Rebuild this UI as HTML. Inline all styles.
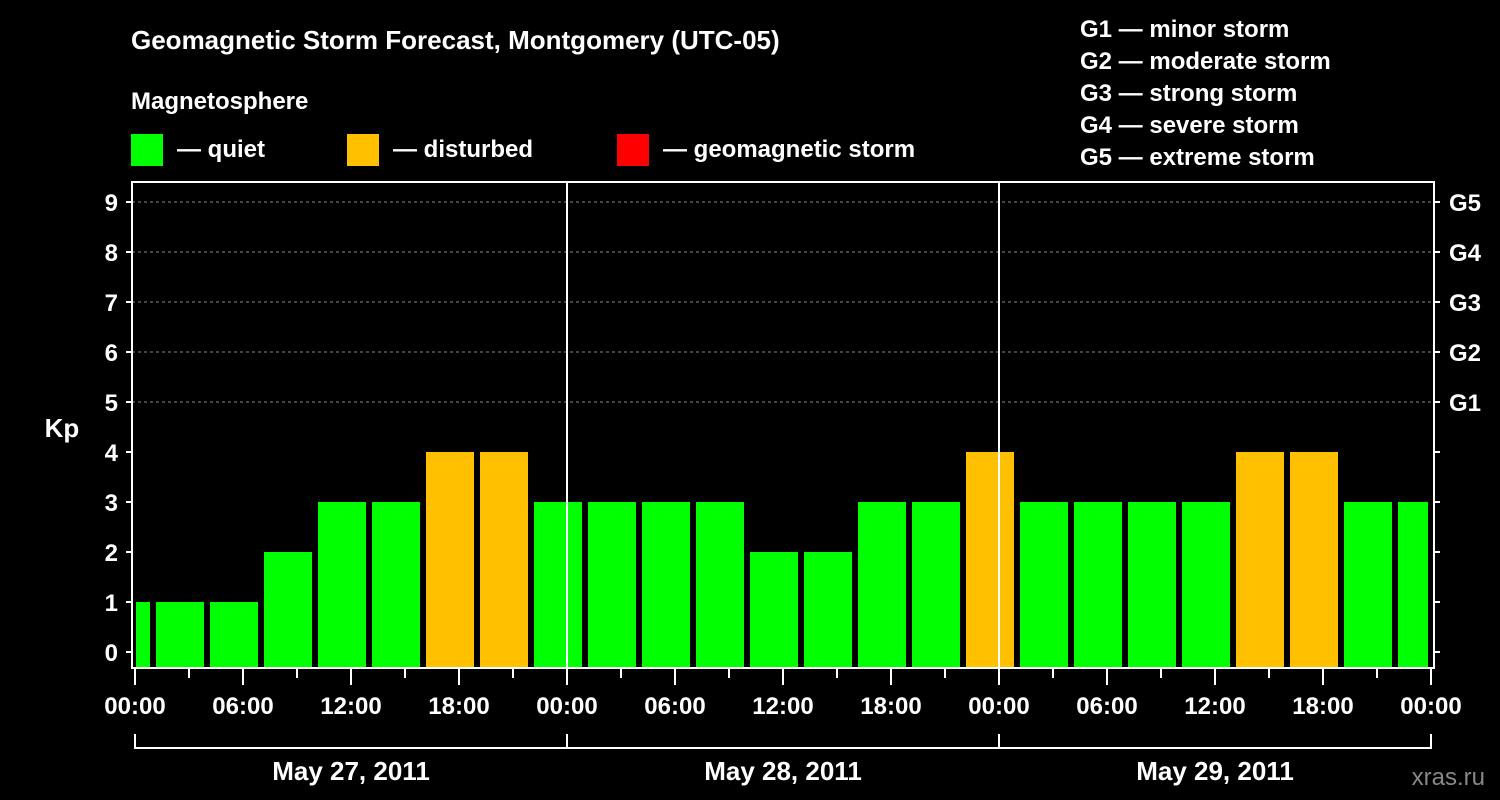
<!DOCTYPE html>
<html><head><meta charset="utf-8"><style>
html,body{margin:0;padding:0;background:#000;}
svg{display:block;font-family:"Liberation Sans",Arial,sans-serif;font-weight:bold;}
</style></head><body>
<svg id="chart" width="1500" height="800" viewBox="0 0 1500 800">
<rect x="0" y="0" width="1500" height="800" fill="#000"/>
<text x="131" y="49" fill="#fff" font-size="26">Geomagnetic Storm Forecast, Montgomery (UTC-05)</text>
<text x="131" y="109" fill="#fff" font-size="24">Magnetosphere</text>
<g><rect x="131" y="134" width="32" height="32" fill="#00ff00"/><text x="177" y="157" fill="#fff" font-size="24">— quiet</text></g>
<g><rect x="347" y="134" width="32" height="32" fill="#ffc000"/><text x="393" y="157" fill="#fff" font-size="24">— disturbed</text></g>
<g><rect x="617" y="134" width="32" height="32" fill="#ff0000"/><text x="663" y="157" fill="#fff" font-size="24">— geomagnetic storm</text></g>
<g fill="#fff" font-size="24">
<text x="1080" y="37">G1 — minor storm</text>
<text x="1080" y="69">G2 — moderate storm</text>
<text x="1080" y="101">G3 — strong storm</text>
<text x="1080" y="133">G4 — severe storm</text>
<text x="1080" y="165">G5 — extreme storm</text>
</g>
<text x="62" y="437" fill="#fff" font-size="26" text-anchor="middle">Kp</text>
<text x="1485" y="785" fill="#888" font-size="24" font-weight="normal" text-anchor="end">xras.ru</text>
<g id="grid"></g><g id="bars"></g><g id="axes"></g>
</svg>
<script>
const kpValues = [1, 1,1,2,3,3,4,4,3, 3,3,3,2,2,3,3,4, 3,3,3,3,4,4,3,3];
const slotStartHours = [-2, 1,4,7,10,13,16,19,22, 25,28,31,34,37,40,43,46, 49,52,55,58,61,64,67,70];
const yTicks = [0,1,2,3,4,5,6,7,8,9];
const gLabels = {5:"G1",6:"G2",7:"G3",8:"G4",9:"G5"};
const xTickLabels = ["00:00","06:00","12:00","18:00","00:00","06:00","12:00","18:00","00:00","06:00","12:00","18:00","00:00"];
const dayLabels = ["May 27, 2011","May 28, 2011","May 29, 2011"];
const NS="http://www.w3.org/2000/svg";
const x0=135, pxH=18, totalH=72, plotL=132, plotR=1434, plotT=182, plotB=668;
const X=h=>x0+h*pxH, Y=v=>652-50*v;
function mk(tag,attrs,parent){const e=document.createElementNS(NS,tag);for(const k in attrs)e.setAttribute(k,attrs[k]);document.getElementById(parent).appendChild(e);return e;}
// grid
yTicks.filter(v=>v>=5).forEach(v=>{const l=mk('line',{x1:plotL,x2:plotR,y1:Y(v),y2:Y(v),stroke:'#888','stroke-width':1,'stroke-dasharray':'3,3'},'grid');

});
// bars
kpValues.forEach((v,i)=>{let s=X(slotStartHours[i])+3, e=X(slotStartHours[i]+3)-3;
s=Math.max(s,plotL+4); e=Math.min(e,plotR-6);
const r=mk('rect',{x:s,y:Y(v),width:e-s,height:plotB-Y(v),fill:v>=5?'#ff0000':(v>=4?'#ffc000':'#00ff00')},'bars');

});
// midnight lines
[24,48].forEach(h=>{const l=mk('line',{x1:X(h),x2:X(h),y1:plotT,y2:plotB,stroke:'#fff','stroke-width':2},'axes');

});
// frame
const fr=mk('rect',{x:plotL,y:plotT,width:plotR-plotL,height:plotB-plotT,fill:'none',stroke:'#fff','stroke-width':2},'axes');


// y ticks
yTicks.forEach(v=>{mk('line',{x1:plotL-6,x2:plotL,y1:Y(v),y2:Y(v),stroke:'#fff','stroke-width':2},'axes');
mk('line',{x1:plotR,x2:plotR+6,y1:Y(v),y2:Y(v),stroke:'#fff','stroke-width':2},'axes');
const t=mk('text',{x:plotL-14,y:Y(v)+9,fill:'#fff','font-size':24,'text-anchor':'end'},'axes');t.textContent=v;


if(gLabels[v]){const g=mk('text',{x:plotR+15,y:Y(v)+9,fill:'#fff','font-size':24},'axes');g.textContent=gLabels[v];

}});
// x ticks
for(let h=0;h<=totalH;h+=3){const major=h%6===0;mk('line',{x1:X(h),x2:X(h),y1:plotB,y2:plotB+(major?17:10),stroke:'#fff','stroke-width':2},'axes');}
xTickLabels.forEach((s,i)=>{const t=mk('text',{x:X(i*6),y:714,fill:'#fff','font-size':24,'text-anchor':'middle'},'axes');t.textContent=s;

});
// day brackets
mk('line',{x1:X(0),x2:X(totalH),y1:748,y2:748,stroke:'#fff','stroke-width':2},'axes');
for(let d=0;d<=3;d++)mk('line',{x1:X(d*24),x2:X(d*24),y1:734,y2:749,stroke:'#fff','stroke-width':2},'axes');
dayLabels.forEach((s,i)=>{const t=mk('text',{x:X(i*24+12),y:780,fill:'#fff','font-size':26,'text-anchor':'middle'},'axes');t.textContent=s;

});
</script>
</body></html>
